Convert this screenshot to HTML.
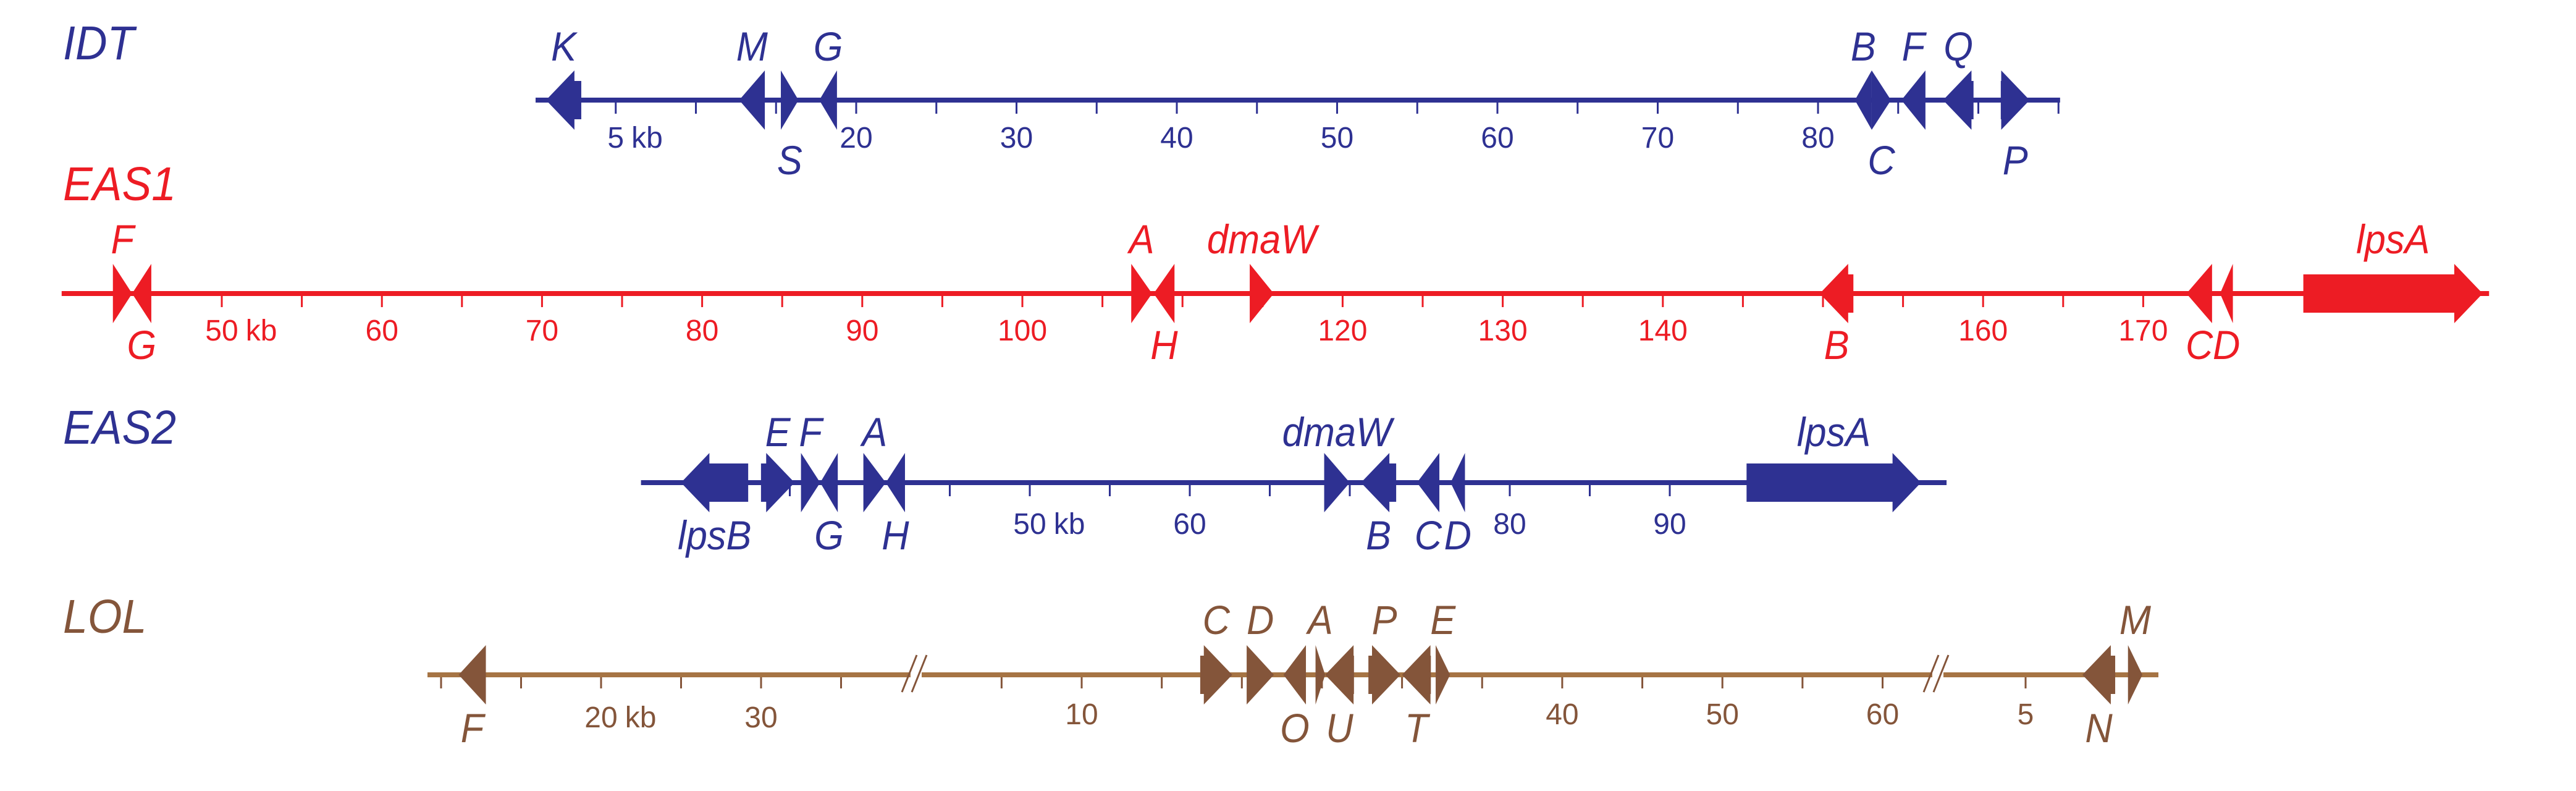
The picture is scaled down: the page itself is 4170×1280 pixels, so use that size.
<!DOCTYPE html>
<html><head><meta charset="utf-8"><style>
html,body{margin:0;padding:0;background:#fff;width:4170px;height:1280px;overflow:hidden}
svg{display:block}
</style></head><body>
<svg id="chart" width="4170" height="1280" viewBox="0 0 4170 1280" xmlns="http://www.w3.org/2000/svg"></svg>
<script>
// ---- data (kb) ----
const idtGeneNames = ["K","M","S","G","B","C","F","Q","P"];
const idtGeneStart = [0.65,12.7,15.3,17.7,82.3,83.35,85.2,87.8,91.4];
const idtGeneEnd   = [2.85,14.3,16.4,18.8,83.35,84.55,86.7,89.7,93.2];
const idtGeneDir   = [-1,-1,1,-1,-1,1,-1,-1,1];
const idtLabelPos  = ["a","a","b","a","a","b","a","a","b"];
const idtTickLabels = [5,20,30,40,50,60,70,80];

const eas1GeneNames = ["F","G","A","H","dmaW","B","C","D","lpsA"];
const eas1GeneStart = [43.2,44.4,106.8,108.2,114.2,149.8,172.7,174.8,180.0];
const eas1GeneEnd   = [44.4,45.6,108.1,109.5,115.7,151.9,174.3,175.6,191.2];
const eas1GeneDir   = [1,-1,1,-1,1,-1,-1,-1,1];
const eas1LabelPos  = ["a","b","a","b","a","b","b","b","a"];
const eas1TickLabels = [50,60,70,80,90,100,120,130,140,160,170];

const eas2GeneNames = ["lpsB","E","F","G","A","H","dmaW","B","C","D","lpsA"];
const eas2GeneStart = [28.2,33.2,35.7,36.9,39.6,41.0,68.4,70.7,74.2,76.3,94.8];
const eas2GeneEnd   = [32.4,35.3,36.9,38.0,41.0,42.2,70.0,72.9,75.6,77.2,105.7];
const eas2GeneDir   = [-1,1,1,-1,1,-1,1,-1,-1,-1,1];
const eas2LabelPos  = ["b","a","a","b","a","b","a","b","b","b","a"];
const eas2TickLabels = [50,60,80,90];

const lolGeneNames = ["F","C","D","O","A","U","P","T","E","N","M"];
const lolGeneSeg   = [0,1,1,1,1,1,1,1,1,2,2];
const lolGeneStart = [11.1,17.4,20.3,22.6,24.6,25.2,27.9,30.0,32.1,8.55,11.4];
const lolGeneEnd   = [12.8,19.4,22.0,24.0,25.2,27.0,29.9,31.8,33.0,10.6,12.3];
const lolGeneDir   = [-1,1,1,-1,1,-1,1,-1,1,-1,1];
const lolLabelPos  = ["b","a","a","b","a","b","a","b","a","b","a"];
const lolSeg0TickLabels = [20,30];
const lolSeg1TickLabels = [10,40,50,60];
const lolSeg2TickLabels = [5];

// ---- layout ----
const NS="http://www.w3.org/2000/svg";
const svg=document.getElementById('chart');
const BLUE="#2E3192", RED="#ED1C24", BROWN="#84553A", BROWNLINE="#A67444";
function mk(tag,attrs,parent){const e=document.createElementNS(NS,tag);for(const k in attrs)e.setAttribute(k,attrs[k]);(parent||svg).appendChild(e);return e;}
function txt(s,x,y,size,fill,italic,anchor,parent){const t=mk('text',{x:x,y:y,'font-size':size,fill:fill,'text-anchor':anchor||'middle','font-family':'"Liberation Sans",Arial,sans-serif','font-style':italic?'italic':'normal'},parent);t.textContent=s;return t;}

function axis(x0,k0,ppk){return kb=>x0+(kb-k0)*ppk;}

function drawLine(g,sx,ex,y,color){
  const r=mk('rect',{x:sx,y:y-4,width:ex-sx,height:8,fill:color},g);
  
  
}
function drawTicks(g,xf,from,to,y,color,labels,labelY,kbFirst){
  for(let k=from;k<=to+0.001;k+=5){
    const t=mk('rect',{x:xf(k)-1.5,y:y+4,width:3,height:18,fill:color},g);
    
    
  }
  labels.forEach((v,i)=>{
    const x=xf(v);
    const t=txt(String(v),x,labelY,48,color,false,'middle',g);
    
    
    if(i===0&&kbFirst){
      const w=String(v).length*0.556*48;
      const u=txt('kb',x+w/2+12,labelY,48,color,false,'start',g);
      
      
    }
  });
}
function drawGene(g,x1,x2,dir,y,color,name){
  const w=x2-x1, H=Math.min(46,w), bh=31, hh=48;
  let pts;
  if(dir>0){const b=x2-H;pts=b>x1+0.5?[[x1,y-bh],[b,y-bh],[b,y-hh],[x2,y],[b,y+hh],[b,y+bh],[x1,y+bh]]:[[x1,y-hh],[x2,y],[x1,y+hh]];}
  else{const b=x1+H;pts=b<x2-0.5?[[x2,y-bh],[b,y-bh],[b,y-hh],[x1,y],[b,y+hh],[b,y+bh],[x2,y+bh]]:[[x2,y-hh],[x1,y],[x2,y+hh]];}
  const p=mk('polygon',{points:pts.map(q=>q.join(',')).join(' '),fill:color},g);
  
  
}
function drawGeneLabel(g,name,x,pos,yA,yB,color){
  const t=mk('text',{transform:`translate(${x},${pos==='a'?yA:yB}) scale(0.93,1)`,'font-size':66,fill:color,'text-anchor':'middle','font-family':'"Liberation Sans",Arial,sans-serif','font-style':'italic'},g);
  t.textContent=name;
  
  
}
function trackTitle(s,y,color){
  const t=mk('text',{transform:`translate(102,${y}) scale(0.93,1)`,'font-size':77,fill:color,'font-family':'"Liberation Sans",Arial,sans-serif','font-style':'italic'});
  t.textContent=s;
  
  
}
function simpleTrack(id,color,lineY,xf,lineFrom,lineTo,tickFrom,tickTo,tickLabels,tickLabelY,names,st,en,dir,lp,yA,yB){
  const g=mk('g',{});
  
  
  drawLine(g,xf(lineFrom),xf(lineTo),lineY,color);
  drawTicks(g,xf,tickFrom,tickTo,lineY,color,tickLabels,tickLabelY,true);
  names.forEach((n,i)=>{
    const a=xf(st[i]),b=xf(en[i]);
    drawGene(g,a,b,dir[i],lineY,color,n);
    drawGeneLabel(g,n,(a+b)/2,lp[i],yA,yB,color);
  });
}

// IDT
trackTitle('IDT',96,BLUE);
simpleTrack('idt',BLUE,162,axis(1386,20,25.95),0,95.1,5,95,idtTickLabels,239,idtGeneNames,idtGeneStart,idtGeneEnd,idtGeneDir,idtLabelPos,98,282);
// EAS1
trackTitle('EAS1',324,RED);
simpleTrack('eas1',RED,475,axis(359,50,25.92),40,191.6,50,170,eas1TickLabels,551,eas1GeneNames,eas1GeneStart,eas1GeneEnd,eas1GeneDir,eas1LabelPos,410,581);
// EAS2
trackTitle('EAS2',718,BLUE);
simpleTrack('eas2',BLUE,781,axis(1667,50,25.9),25.7,107.3,35,90,eas2TickLabels,864,eas2GeneNames,eas2GeneStart,eas2GeneEnd,eas2GeneDir,eas2LabelPos,722,889);

// LOL (three segments with breaks)
trackTitle('LOL',1024,BROWN);
(function(){
  const g=mk('g',{});
  
  
  const y=1092;
  const segX=[axis(973,20,25.9),axis(1751,10,25.93),axis(3279,5,25.9)];
  drawLine(g,692,1474,y,BROWNLINE);
  drawLine(g,1492,3128,y,BROWNLINE);
  drawLine(g,3146,3494,y,BROWNLINE);
  drawTicks(g,segX[0],10,35,y,BROWN,lolSeg0TickLabels,1177,true);
  drawTicks(g,segX[1],5,60,y,BROWN,lolSeg1TickLabels,1172,false);
  drawTicks(g,segX[2],5,5,y,BROWN,lolSeg2TickLabels,1172,false);
  [[1480],[3134]].forEach(([bx])=>{
    [-8,8].forEach(d=>{
      const l=mk('line',{x1:bx+d-12,y1:1120,x2:bx+d+12,y2:1060,stroke:BROWN,'stroke-width':3},g);
      
      
    });
  });
  lolGeneNames.forEach((n,i)=>{
    const xf=segX[lolGeneSeg[i]];
    const a=xf(lolGeneStart[i]),b=xf(lolGeneEnd[i]);
    drawGene(g,a,b,lolGeneDir[i],y,BROWN,n);
    drawGeneLabel(g,n,(a+b)/2,lolLabelPos[i],1026,1201,BROWN);
  });
})();
</script>
</body></html>
